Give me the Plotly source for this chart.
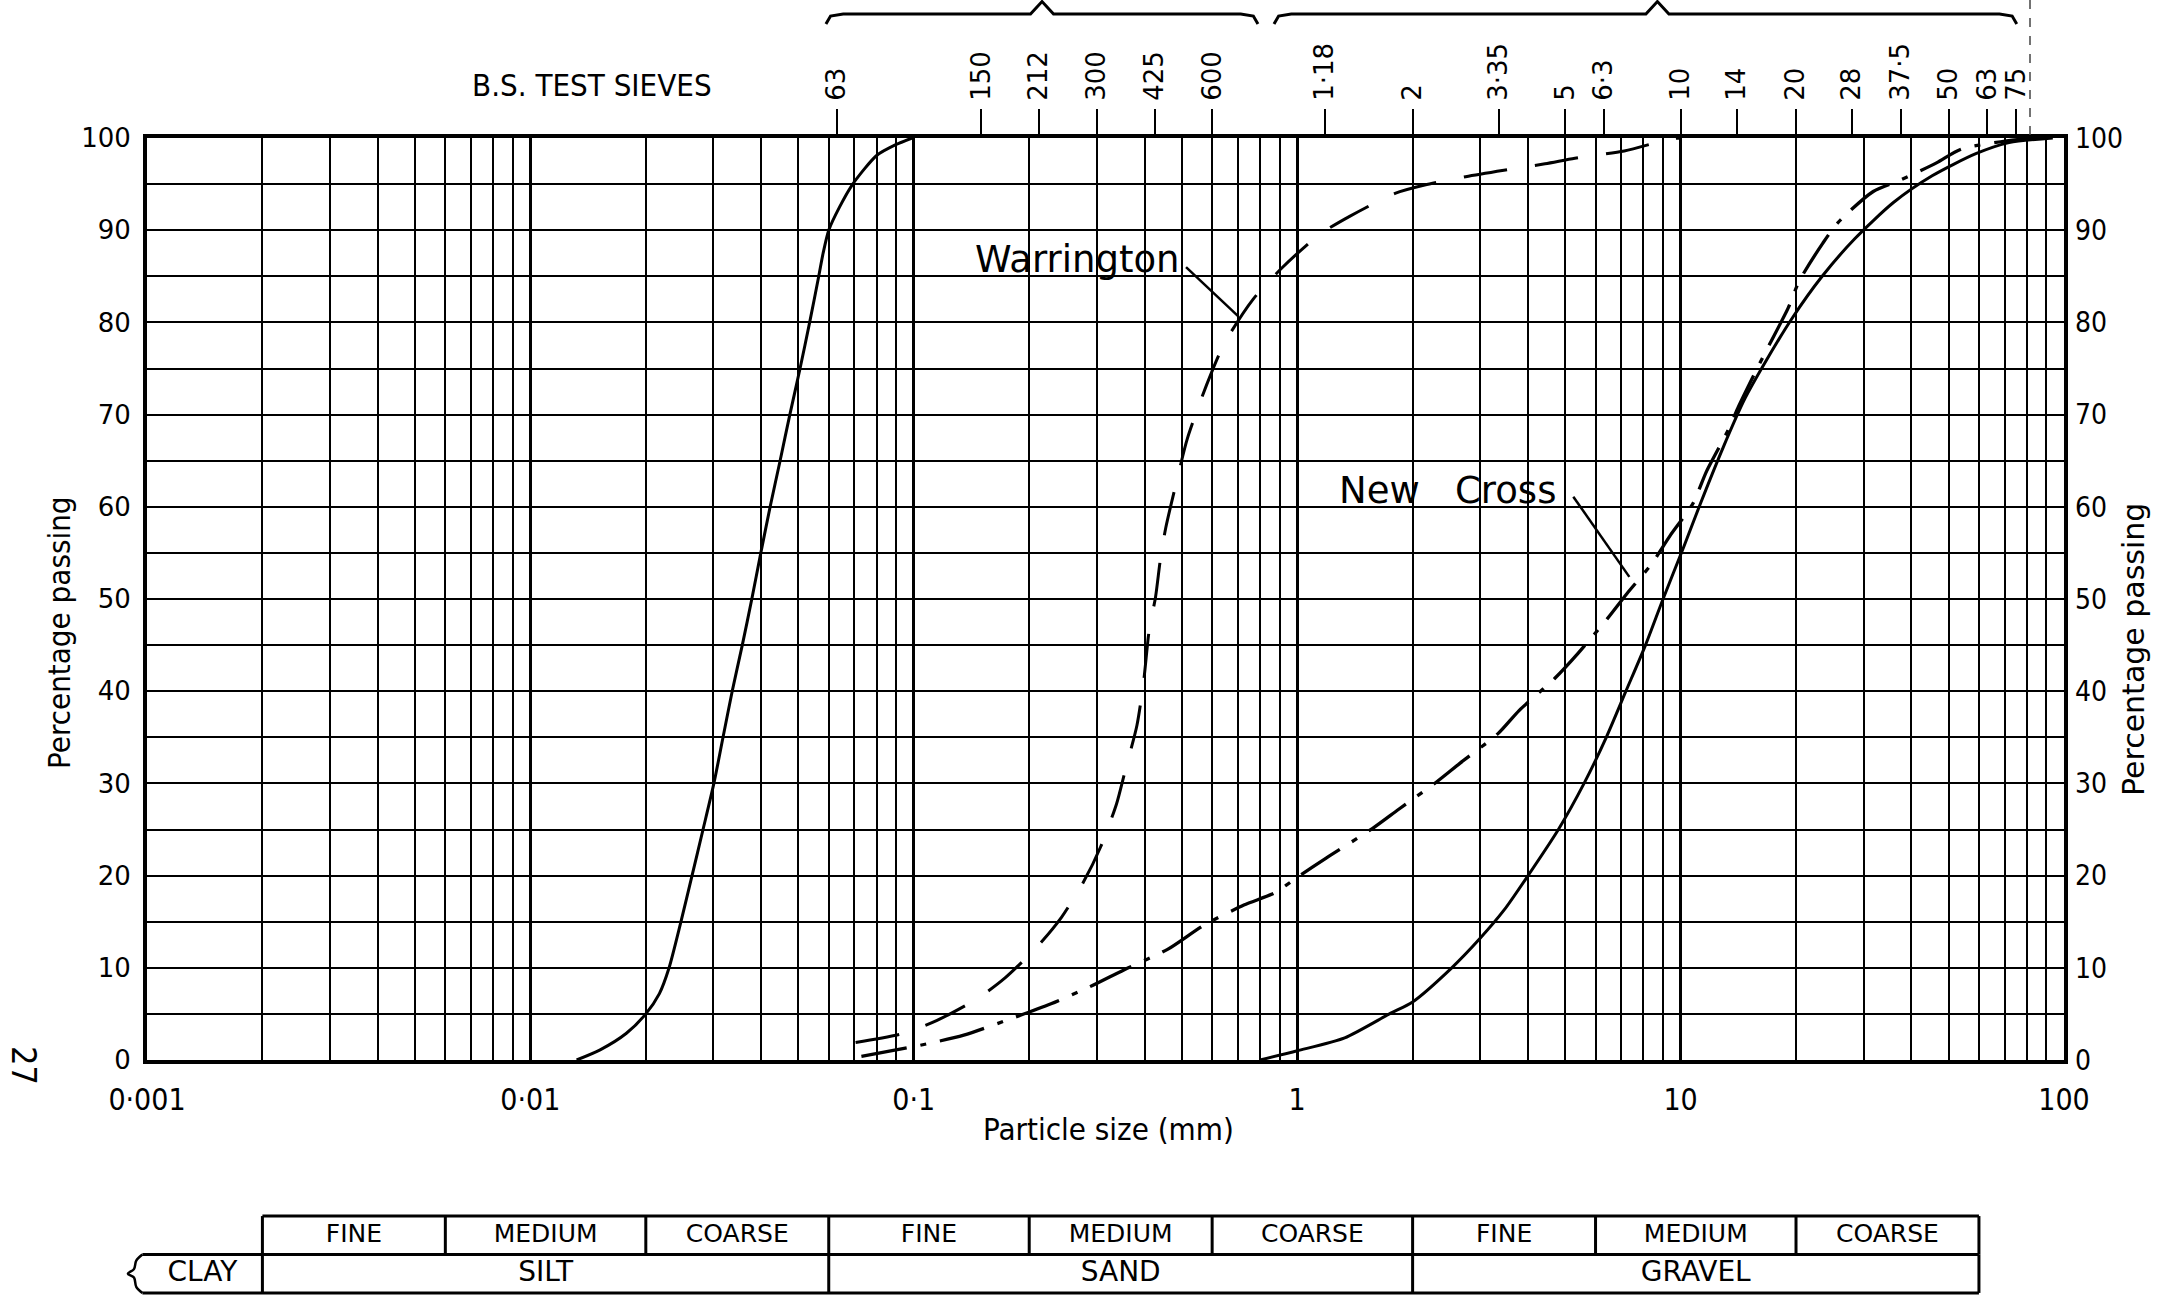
import math
import plotly.graph_objects as go

W, H = 2158, 1299

# ---------------- grading curves: particle size (mm) vs percentage passing ----------------
silt_size = [0.0132, 0.0152, 0.0178, 0.0200, 0.0217, 0.0230, 0.0247, 0.0264, 0.0282, 0.0301,
             0.0318, 0.0336, 0.0357, 0.0378, 0.0399, 0.0422, 0.0448, 0.0475, 0.0505, 0.0535,
             0.0565, 0.0580, 0.0600, 0.0640, 0.0693, 0.0800, 0.0900, 0.0990]
silt_pass = [0, 1.1, 2.9, 5.0, 7.2, 10, 15, 20, 25, 30,
             35, 40, 45, 50, 55, 60, 65, 70, 75, 80,
             85, 87.5, 90, 92.5, 95, 98.1, 99.3, 100]

warrington_size = [0.0705, 0.0942, 0.115, 0.147, 0.173, 0.211, 0.243, 0.277, 0.307, 0.338,
                   0.355, 0.382, 0.398, 0.411, 0.427, 0.440, 0.454, 0.487, 0.517, 0.580,
                   0.645, 0.767, 0.912, 1.14, 1.37, 1.80, 2.15, 2.75, 3.46, 4.43,
                   5.3, 7.13, 9.42, 10.0]
warrington_pass = [1.9, 2.9, 4.3, 6.7, 8.9, 12.4, 15.5, 19.3, 23.1, 27.8,
                   31.2, 36.3, 41.2, 46.6, 50.2, 54.4, 57.7, 63.1, 67.4, 73.2,
                   77.7, 82.5, 85.9, 89.5, 91.5, 94.0, 94.9, 95.8, 96.5, 97.2,
                   97.8, 98.6, 99.9, 100]

new_cross_size = [0.073, 0.104, 0.135, 0.177, 0.228, 0.288, 0.354, 0.459, 0.570, 0.726,
                  0.871, 1.0, 1.19, 1.57, 1.84, 2.30, 2.66, 3.34, 3.79, 4.70,
                  5.4, 6.45, 7.25, 8.4, 9.4, 10.75, 11.7, 13.3, 14.1, 16.1,
                  17.1, 19.1, 20.4, 23.5, 25.7, 31.8, 37.3, 46.5, 54.0, 78.5, 90.0]
new_cross_pass = [0.4, 1.6, 2.7, 4.4, 6.1, 7.95, 9.8, 12.0, 14.6, 16.8,
                  18.1, 19.8, 21.9, 25.1, 27.2, 30.1, 32.2, 35.4, 37.9, 41.4,
                  44.1, 47.9, 50.6, 53.8, 56.9, 60.3, 63.9, 68.3, 70.7, 75.6,
                  77.7, 81.6, 84.5, 88.6, 90.8, 94.2, 95.4, 97.3, 98.8, 99.9, 100]

gravel_size = [0.80, 1.0, 1.33, 1.74, 2.0, 2.53, 3.0, 3.47, 4.0, 4.8,
               5.6, 6.4, 7.2, 8.1, 9.0, 10.2, 11.3, 12.9, 14.7, 16.8,
               19.5, 23.4, 28.5, 35.9, 45.3, 58.9, 71.9, 93.5]
gravel_pass = [0, 1.0, 2.4, 5.0, 6.3, 10, 13.2, 16.3, 20, 25,
               30, 35, 40, 45, 50, 55.7, 60.5, 66.4, 71.7, 76,
               80.4, 85, 89.1, 93, 95.9, 98.3, 99.5, 100]

# leader lines from the curve names to their curves (size mm, % passing)
warrington_leader_size = [0.513, 0.70]
warrington_leader_pass = [86.0, 80.7]
new_cross_leader_size = [5.25, 7.35]
new_cross_leader_pass = [61.1, 52.4]

# ---------------- axes ----------------
size_ticks = [0.001, 0.01, 0.1, 1, 10, 100]
size_tick_labels = ["0·001", "0·01", "0·1", "1", "10", "100"]
pass_ticks = [0, 10, 20, 30, 40, 50, 60, 70, 80, 90, 100]

# B.S. test sieve apertures (mm) and their printed labels (µm below 1 mm)
sieve_size = [0.063, 0.150, 0.212, 0.300, 0.425, 0.600, 1.18, 2, 3.35, 5, 6.3,
              10, 14, 20, 28, 37.5, 50, 63, 75]
sieve_label = ["63", "150", "212", "300", "425", "600", "1·18", "2", "3·35", "5", "6·3",
               "10", "14", "20", "28", "37·5", "50", "63", "75"]
# sieve groups bracketed above the chart: (start, middle, end) in mm
sieve_groups = [(0.059, 0.216, 0.79), (0.87, 8.7, 75.3)]

# ---------------- soil classification (mm limits) ----------------
class_limits = [0.002, 0.006, 0.02, 0.06, 0.2, 0.6, 2, 6, 20, 60]
sub_names = ["FINE", "MEDIUM", "COARSE", "FINE", "MEDIUM", "COARSE", "FINE", "MEDIUM", "COARSE"]
main_names = ["SILT", "SAND", "GRAVEL"]
main_limits = [0.002, 0.06, 2, 60]

FONT_R = "DejaVu Sans, Verdana, sans-serif"
FONT_N = "Liberation Sans Narrow, DejaVu Sans Condensed, Liberation Sans, Arial, sans-serif"
INK = "black"

# plot frame in pixels
PX_L, PX_R, PX_T, PX_B = 147, 2064, 138, 1060


def fx(px):
    return px / W


def fy(py):
    return 1 - py / H


x_dom = [fx(PX_L), fx(PX_R)]
y_dom = [fy(PX_B), fy(PX_T)]
dec_per_paper = 5 / (x_dom[1] - x_dom[0])
wide_range = [-3 - x_dom[0] * dec_per_paper, 2 + (1 - x_dom[1]) * dec_per_paper]

fig = go.Figure()

curve_line = dict(color=INK, width=3, shape="spline", smoothing=0.7)
fig.add_trace(go.Scatter(x=silt_size, y=silt_pass, mode="lines", line=curve_line))
fig.add_trace(go.Scatter(x=gravel_size, y=gravel_pass, mode="lines", line=curve_line))
fig.add_trace(go.Scatter(x=warrington_size, y=warrington_pass, mode="lines",
                         line=dict(curve_line, dash="44px,28px")))
fig.add_trace(go.Scatter(x=new_cross_size, y=new_cross_pass, mode="lines",
                         line=dict(curve_line, dash="46px,14px,6px,14px", width=3.3)))

for xs, ys in [(warrington_leader_size, warrington_leader_pass),
               (new_cross_leader_size, new_cross_leader_pass)]:
    fig.add_trace(go.Scatter(x=xs, y=ys, mode="lines", line=dict(color=INK, width=2.5)))

# placeholders so that the top sieve axis and right-hand axis are drawn
fig.add_trace(go.Scatter(x=sieve_size, y=[None] * len(sieve_size), xaxis="x2", yaxis="y",
                         mode="markers", marker=dict(opacity=0)))
fig.add_trace(go.Scatter(x=[None], y=[None], xaxis="x", yaxis="y2", mode="markers",
                         marker=dict(opacity=0)))

# ---------------- classification table (x3 / y3) ----------------
clay_left = 10 ** (-3 - 0.012)
tx, ty = [], []


def seg(x0, x1, y0, y1):
    tx.extend([x0, x1, None])
    ty.extend([y0, y1, None])


seg(class_limits[0], class_limits[-1], 2, 2)
seg(clay_left, class_limits[-1], 1, 1)
seg(clay_left, class_limits[-1], 0, 0)
for v in class_limits:
    seg(v, v, 1, 2)
for v in main_limits:
    seg(v, v, 0, 1)
fig.add_trace(go.Scatter(x=tx, y=ty, mode="lines", xaxis="x3", yaxis="y3",
                         line=dict(color=INK, width=3)))

# wavy left edge of the clay cell
squiggle = [(-0.012, 1.0), (-0.028, 0.84), (-0.034, 0.62), (-0.05, 0.5),
            (-0.034, 0.40), (-0.028, 0.16), (-0.012, 0.0)]
fig.add_trace(go.Scatter(x=[10 ** (-3 + d) for d, _ in squiggle], y=[v for _, v in squiggle],
                         mode="lines", xaxis="x3", yaxis="y3",
                         line=dict(color=INK, width=2.5, shape="spline")))

sub_x = [math.sqrt(class_limits[i] * class_limits[i + 1]) for i in range(len(sub_names))]
fig.add_trace(go.Scatter(x=sub_x, y=[1.5] * len(sub_x), text=sub_names, mode="text",
                         xaxis="x3", yaxis="y3",
                         textfont=dict(family=FONT_R, size=25, color=INK)))
main_x = [math.sqrt(clay_left * main_limits[0])] + \
         [math.sqrt(main_limits[i] * main_limits[i + 1]) for i in range(3)]
fig.add_trace(go.Scatter(x=main_x, y=[0.5] * 4, text=["CLAY"] + main_names, mode="text",
                         xaxis="x3", yaxis="y3",
                         textfont=dict(family=FONT_R, size=28, color=INK)))

# ---------------- braces over the sieve groups (x3 / y4) ----------------
for lo, mid, hi in sieve_groups:
    bx = [lo, lo * 10 ** 0.012, lo * 10 ** 0.045, mid * 10 ** -0.03, mid,
          mid * 10 ** 0.03, hi * 10 ** -0.045, hi * 10 ** -0.012, hi]
    by = [0.25, 0.5, 0.56, 0.56, 0.95, 0.56, 0.56, 0.5, 0.25]
    fig.add_trace(go.Scatter(x=bx, y=by, mode="lines", xaxis="x3", yaxis="y4",
                             line=dict(color=INK, width=3)))

minor_vals = [d * 10 ** k for k in range(-3, 2) for d in range(2, 10)]

fig.update_layout(
    width=W, height=H,
    margin=dict(l=0, r=0, t=0, b=0, autoexpand=False),
    paper_bgcolor="white", plot_bgcolor="white",
    showlegend=False, hovermode=False,
    xaxis=dict(
        type="log", range=[-3, 2], domain=x_dom, anchor="y", automargin=False,
        tickmode="array", tickvals=size_ticks, ticktext=size_tick_labels,
        ticks="", ticklabelstandoff=10,
        tickfont=dict(family=FONT_N, size=30, color=INK),
        showgrid=True, gridcolor=INK, gridwidth=3,
        minor=dict(tickmode="array", tickvals=minor_vals, showgrid=True,
                   gridcolor=INK, gridwidth=2, ticks=""),
        showline=True, linecolor=INK, linewidth=4, mirror=True, zeroline=False,
    ),
    xaxis2=dict(
        type="log", range=[-3, 2], overlaying="x", side="top", anchor="y", automargin=False,
        tickmode="array", tickvals=sieve_size, ticktext=sieve_label,
        tickangle=-90, ticks="outside", ticklen=28, tickwidth=2, tickcolor=INK,
        ticklabelstandoff=3,
        tickfont=dict(family=FONT_R, size=26, color=INK),
        showgrid=False, showline=False, zeroline=False,
    ),
    yaxis=dict(
        range=[0, 100], domain=y_dom, anchor="x", automargin=False,
        tickmode="array", tickvals=pass_ticks, ticks="", ticklabelstandoff=7,
        tickfont=dict(family=FONT_R, size=26, color=INK),
        showgrid=True, gridcolor=INK, gridwidth=2,
        minor=dict(dtick=5, showgrid=True, gridcolor=INK, gridwidth=2, ticks=""),
        showline=True, linecolor=INK, linewidth=4, mirror=True, zeroline=False,
    ),
    yaxis2=dict(
        range=[0, 100], overlaying="y", side="right", anchor="x", automargin=False,
        tickmode="array", tickvals=pass_ticks, ticks="", ticklabelstandoff=10,
        tickfont=dict(family=FONT_N, size=28, color=INK),
        showgrid=False, showline=False, zeroline=False,
    ),
    xaxis3=dict(type="log", range=wide_range, domain=[0, 1], anchor="y3",
                visible=False, automargin=False),
    yaxis3=dict(range=[-0.08, 2.08], domain=[fy(1296), fy(1213)], anchor="x3",
                visible=False, automargin=False),
    yaxis4=dict(range=[0, 1], domain=[fy(32), 1], anchor="x3",
                visible=False, automargin=False),
)


def paper_note(text, px, py, size, family, angle=0):
    return dict(text=text, x=fx(px), y=fy(py), xref="paper", yref="paper",
                xanchor="center", yanchor="middle", textangle=angle, showarrow=False,
                font=dict(family=family, size=size, color=INK))


annotations = [
    paper_note("B.S. TEST SIEVES", 592, 85, 31, FONT_N),
    paper_note("Percentage passing", 59, 633, 31, FONT_N, -90),
    paper_note("Percentage passing", 2133, 650, 30, FONT_R, -90),
    paper_note("Particle size (mm)", 1108, 1129, 31, FONT_N),
    paper_note("27", 24, 1065, 34, FONT_N, 90),
    dict(text="Warrington", x=math.log10(0.497), y=86.8, xref="x", yref="y",
         xanchor="right", yanchor="middle", showarrow=False,
         font=dict(family=FONT_R, size=37, color=INK)),
    dict(text="New\u00a0\u00a0\u00a0Cross", x=math.log10(1.27), y=61.8, xref="x", yref="y",
         xanchor="left", yanchor="middle", showarrow=False,
         font=dict(family=FONT_R, size=37, color=INK)),
]
fig.update_layout(annotations=annotations)

# trimming mark at the top right of the page
fig.add_shape(type="line", xref="paper", yref="paper", x0=fx(2030), x1=fx(2030),
              y0=1, y1=fy(PX_T), line=dict(color="#444", width=1.5, dash="dash"))

fig.write_html("out.html")
